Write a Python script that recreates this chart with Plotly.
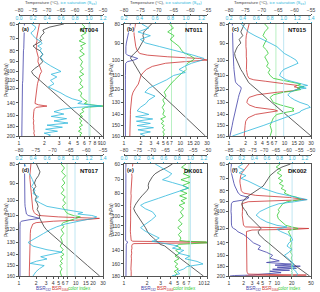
import math
import plotly.graph_objects as go

# ---------------- data ----------------
# Panel (a) NT004
p_a = [60,62,64,66,68, 70,72,74,76,78, 80,83,86,90,94, 97,100,103,106,110,
       114,118,122,126,130, 134,138,141,143,145, 147,150,154,158,162,
       166,170,174,178,182, 186,190,194,198,200]
T_a = [-64,-69,-71.5,-71,-72, -72.5,-72,-73.5,-75,-74, -72.5,-71.5,-72.5,-71.5,-73,
       -74.5,-75.5,-75,-74,-72.5, -71.2,-69.9,-68.65,-67.5,-66.3, -65.2,-64.1,-63.3,-62.8,-62.2,
       -61.7,-61,-60,-59,-58.1, -57.2,-56.3,-55.5,-54.6,-53.8, -53,-52.2,-51.4,-50.7,-50.3]
S_a = [0.18,0.24,0.22,0.17,0.2, 0.24,0.3,0.33,0.27,0.32, 0.3,0.34,0.31,0.36,0.45,
       0.52,0.6,0.46,0.54,0.45, 0.5,0.42,0.52,0.6,0.67, 0.76,0.9,0.84,1.0,1.18,
       0.82,0.62,0.5,0.64,0.46, 0.68,0.5,0.7,0.4,0.62, 0.38,0.55,0.36,0.45,0.42]
B532_a = [1.16,1.16,1.15,1.15,1.15, 1.15,1.14,1.14,1.14,1.14, 1.13,1.13,1.13,1.12,1.12,
          1.12,1.12,1.11,1.11,1.11, 1.1,1.1,1.1,1.1,1.1, 1.09,1.09,1.09,1.09,1.09,
          1.09,1.09,1.08,1.08,1.08, 1.08,1.08,1.08,1.08,1.08, 1.08,1.08,1.08,1.08,1.08]
B1064_a = [1.75,1.72,1.68,1.66,1.64, 1.62,1.64,1.6,1.63,1.6, 1.62,1.65,1.7,1.68,1.75,
           1.8,1.86,1.78,1.74,1.68, 1.66,1.64,1.62,1.62,1.6, 1.58,1.56,1.55,1.7,2.15,
           1.6,1.52,1.5,1.49,1.5, 1.48,1.5,1.48,1.5,1.49, 1.5,1.52,1.5,1.53,1.52]
CI_a = [5.6,6.1,5.3,6.3,5.5, 5.9,5.2,6.2,5.4,5.8, 5.3,6.0,5.2,5.7,5.4,
        5.8,5.3,5.9,5.2,5.6, 5.3,5.8,5.1,5.6,5.4, 5.8,6.5,6.0,7.2,10,
        6.2,5.6,5.9,5.3,5.7, 5.2,5.6,5.3,5.7,5.2, 5.5,5.1,5.6,5.3,5.5]

# Panel (b) NT011
p_b = [80,82,84,86,88, 90,92,94,96,97, 98,99,100,101,102, 104,106,108,110,113,
       116,119,122,125,128, 131,134,137,140,142, 144,146,148,150,152, 154,156,158,160]
T_b = [-71.7,-73,-74,-74.3,-74, -74.6,-75.3,-75.8,-76.9,-77.4, -77.9,-78,-77.5,-77.2,-77,
       -76.5,-76,-75.4,-74.8,-73.4, -72.1,-70.8,-69.5,-68.2,-67.0, -65.8,-64.6,-63.5,-62.4,-61.65,
       -60.9,-60.2,-59.5,-58.9,-58.15, -57.5,-56.8,-56.1,-55.5]
S_b = [0.43,0.52,0.38,0.54,0.41, 0.48,0.66,0.84,1.03,1.09, 1.16,1.23,1.21,1.13,1.07,
       0.98,0.91,0.99,0.84,0.75, 0.64,0.52,0.47,0.6,0.52, 0.48,0.41,0.37,0.52,0.35,
       0.57,0.36,0.54,0.37,0.58, 0.38,0.54,0.41,0.47]
B532_b = [1.3,1.25,1.2,1.16,1.13, 1.1,1.08,1.07,1.08,1.15, 1.4,1.75,1.5,1.15,1.07,
          1.06,1.06,1.06,1.06,1.06, 1.06,1.06,1.06,1.06,1.06, 1.06,1.06,1.06,1.06,1.06,
          1.06,1.06,1.06,1.06,1.06, 1.06,1.06,1.06,1.06]
B1064_b = [1.6,1.55,1.5,1.52,1.55, 1.58,1.62,1.7,1.9,2.6, 6,22,30,12,5.5,
           3.2,2.5,2.2,2.0,1.9, 1.8,1.6,1.45,1.38,1.35, 1.33,1.32,1.3,1.3,1.3,
           1.3,1.29,1.3,1.29,1.28, 1.28,1.28,1.27,1.27]
CI_b = [6.4,7.6,6.0,7.8,6.6, 8.0,9.6,10.5,12,14.5, 16,18,17,15,13.5,
        12.5,13,11,9.5,8.0, 6.8,6.0,5.2,5.6,4.9, 5.3,4.8,5.2,4.9,5.5,
        4.5,5.1,4.6,5.2,4.8, 5.3,4.9,5.2,5.0]

# Panel (c) NT015
p_c = [80,82,84,86,88, 90,92,94,96,98, 100,102,104,106,108, 110,112,113,114,115,
       116,117,118,119,120, 121,122,124,126,128, 130,132,134,135,136, 137,138,140,143,146,
       150,155,160]
T_c = [-75.3,-75.8,-76.4,-75.8,-76.9, -76.4,-77.4,-77.9,-78.3,-78.1, -77.7,-77.4,-76.9,-76.4,-75.8,
       -75.3,-74.8,-74.5,-74.2,-74, -73.5,-73.0,-72.5,-72.0,-71.55, -71.1,-70.6,-69.7,-68.7,-67.8,
       -66.95,-66.1,-65.2,-64.8,-64.35, -63.9,-63.5,-62.7,-61.5,-60.3, -58.7,-56.8,-55]
S_c = [0.38,0.43,0.48,0.58,0.68, 0.8,0.9,0.96,1.01,1.1, 1.18,1.21,1.1,1.0,0.96,
       0.94,1.0,1.04,1.11,1.2, 1.26,1.35,1.23,1.33,1.18, 1.13,1.1,1.06,1.1,1.16,
       1.24,1.35,1.39,1.33,1.28, 1.25,1.24,1.15,1.02,0.88, 0.7,0.47,0.25]
B532_c = [1.15,1.15,1.16,1.16,1.17, 1.17,1.18,1.18,1.19,1.19, 1.2,1.21,1.22,1.23,1.24,
          1.25,1.27,1.28,1.3,1.33, 1.38,1.48,1.62,1.66,1.64, 1.6,1.57,1.52,1.48,1.44,
          1.4,1.37,1.34,1.32,1.31, 1.3,1.28,1.26,1.22,1.18, 1.14,1.09,1.04]
B1064_c = [2.3,2.2,2.1,2.05,2.02, 2.0,2.02,2.05,2.03,2.05, 2.08,2.06,2.08,2.06,2.1,
           2.15,2.3,2.8,4.5,7.5, 12.5,17,15,19,17, 14,7.5,3.2,2.3,2.15,
           2.1,2.3,3.0,4.5,6.5, 7.5,5.5,3.0,2.2,2.0, 1.95,1.9,1.88]
CI_c = [4.4,5.1,4.4,4.1,4.75, 4.4,4.1,4.75,5.1,4.4, 4.75,5.1,4.75,5.5,5.1,
        5.5,6.3,8.4,12.8,15.9, 19.6,17,22.6,17,19.6, 14.8,9.7,6.3,5.5,5.9,
        6.3,8.4,12.8,14.8,13.8, 14.8,11.1,7.3,6.3,5.9, 5.5,5.9,5.5]

# Panel (d) NT017
p_d = [80,82,84,86,88, 90,92,94,96,98, 100,102,104,106,108, 109,110,111,112,113,
       114,115,116,118,120, 123,126,130,133,136, 138,140,142,144,146, 148,150,153,156,160]
T_d = [-74.8,-74.3,-73.75,-74.2,-75, -75.4,-75,-75.8,-75.2,-74.8, -75.2,-74.6,-74.3,-74.6,-74.1,
       -74,-73.75,-74,-73.9,-73.6, -73.4,-73.2,-73,-72.5,-71.9, -70.5,-69.2,-67.5,-66.2,-65.0,
       -64.2,-63.4,-62.6,-61.8,-61.05, -60.3,-59.6,-58.5,-57.4,-56]
S_d = [0.28,0.31,0.34,0.36,0.39, 0.41,0.38,0.43,0.4,0.48, 0.43,0.51,0.6,0.85,1.11,
       1.04,1.24,1.31,1.26,1.15, 1.06,0.96,0.86,0.74,0.65, 0.55,0.45,0.33,0.4,0.6,
       0.81,0.65,0.51,0.6,0.45, 0.36,0.56,0.49,0.44,0.4]
B532_d = [1.25,1.25,1.24,1.24,1.24, 1.24,1.25,1.25,1.25,1.26, 1.26,1.27,1.28,1.3,1.32,
          1.35,1.45,1.8,2.3,1.5, 1.1,1.05,1.04,1.04,1.04, 1.04,1.04,1.04,1.04,1.04,
          1.04,1.04,1.04,1.04,1.04, 1.04,1.04,1.04,1.04,1.04]
B1064_d = [1.62,1.58,1.56,1.55,1.56, 1.58,1.6,1.62,1.63,1.65, 1.66,1.68,1.7,1.75,1.85,
           1.95,2.2,5,26,14, 4,2.0,1.75,1.65,1.6, 1.58,1.57,1.56,1.55,1.55,
           1.54,1.54,1.53,1.53,1.53, 1.52,1.52,1.52,1.52,1.52]
CI_d = [5.5,6.3,5.6,6.6,5.8, 6.4,5.6,6.2,5.5,6.5, 5.9,6.6,5.8,6.3,6.8,
        7.5,9,12,10,8, 6.5,6.0,5.6,6.2,5.5, 6.1,5.4,5.8,5.3,6.0,
        5.5,6.2,5.4,5.9,5.3, 5.8,5.2,5.7,5.3,5.6]

# Panel (e) DK001
p_e = [60,62,64,66,68, 70,72,74,76,78, 80,82,84,86,88, 90,93,96,100,104,
       108,112,116,120,124, 127,128,129,130,131, 132,134,137,140,144, 148,152,156,160,164,
       168,172,176,180]
T_e = [-62.5,-64.4,-66.9,-68.75,-69.75, -70.5,-71,-71.25,-71.1,-71.75, -72.75,-73.5,-74.25,-75,-75.5,
       -76,-76.5,-76,-75,-74, -73,-72.25,-71.6,-70.75,-69.4, -68.5,-68.1,-67.75,-67.5,-67.25,
       -66.9,-65.3,-64.2,-63.1,-61.9, -60.7,-59.5,-58.3,-57.2,-56, -54.8,-53.6,-52.4,-51.3]
S_e = [0.47,0.55,0.64,0.72,0.67, 0.58,0.73,0.875,0.97,0.84, 0.73,0.625,0.52,0.42,0.31,
       0.25,0.32,0.43,0.48,0.41, 0.32,0.25,0.32,0.42,0.53, 0.47,0.42,0.49,0.57,0.64,
       0.72,0.81,0.73,0.9,0.82, 0.99,0.92,1.1,1.19,0.95, 0.9,0.8,0.84,0.72]
B532_e = [1.06,1.06,1.06,1.06,1.06, 1.06,1.06,1.05,1.05,1.05, 1.05,1.05,1.05,1.05,1.05,
          1.05,1.05,1.05,1.05,1.05, 1.05,1.05,1.05,1.05,1.05, 1.05,1.08,1.12,1.1,1.08,
          1.07,1.07,1.07,1.07,1.07, 1.07,1.06,1.06,1.06,1.06, 1.06,1.06,1.06,1.06]
B1064_e = [1.3,1.28,1.27,1.26,1.27, 1.26,1.25,1.26,1.25,1.24, 1.23,1.24,1.23,1.22,1.23,
           1.22,1.22,1.21,1.22,1.22, 1.21,1.22,1.21,1.22,1.22, 1.24,1.3,11.5,11.8,1.35,
           1.28,1.26,1.27,1.25,1.26, 1.24,1.25,1.24,1.23,1.24, 1.23,1.24,1.23,1.24]
CI_e = [6.4,5.6,7.0,5.9,7.3, 5.5,7.2,5.8,6.9,5.4, 6.6,5.3,6.5,5.5,6.2,
        5.2,6.0,5.4,5.9,5.1, 5.7,5.0,5.6,5.1,5.5, 5.3,6.5,12,12,6.2,
        5.2,4.8,5.5,4.7,5.3, 4.6,5.2,4.5,5.0,4.6, 5.1,4.5,4.9,4.6]

# Panel (f) DK002
p_f = [60,62,64,66,68, 70,72,74,76,78, 80,82,84,86,88, 90,92,95,98,100,
       104,108,112,116,118, 119,120,121,122,124, 128,132,136,140,145, 150,155,160,165,170,
       173,176,178,180,182, 184,186,188,190,193, 196,198,199,200]
T_f = [-58.75,-62.4,-64.6,-66,-67.5, -68.2,-69,-69.7,-70.4,-71.9, -73.3,-74.8,-76.25,-77.7,-78.4,
       -79.2,-79.5,-79.2,-78.4,-77.7, -77,-75.5,-73.6,-72.2,-71.6, -71.4,-71.3,-71.6,-71.9,-72.6,
       -72.2,-71.1,-69.7,-68.2,-66.6, -65.2,-63.7,-62.2,-60.8,-59.3, -58.5,-57.6,-57,-56.4,-55.8,
       -55.25,-54.7,-54.1,-53.5,-52.6, -51.75,-51.2,-50.9,-50.6]
S_f = [0.22,0.14,0.24,0.16,0.27, 0.19,0.3,0.38,0.46,0.54, 0.65,0.76,0.92,1.09,1.24,
       1.04,0.79,0.65,0.55,0.49, 0.43,0.5,0.6,0.76,0.92, 0.88,0.82,0.76,0.79,0.82,
       0.93,0.99,1.01,0.95,0.92, 0.99,0.95,0.88,0.93,0.98, 1.0,1.03,1.01,1.0,1.03,
       1.04,1.02,1.05,1.06,1.07, 1.09,1.07,1.06,1.06]
B532_f = [1.12,1.1,1.1,1.12,1.15, 1.18,1.22,1.27,1.32,1.38, 1.45,1.55,1.75,2.6,2.2,
          1.2,1.12,1.1,1.12,1.1, 1.12,1.1,1.12,1.13,1.15, 1.18,1.25,1.35,1.42,1.5,
          2.0,2.4,2.8,3.2,4.5, 4.0,6.0,8.0,7.0,11, 6.0,20,9,30,10,
          25,8,18,7,12, 5,3.0,1.3,1.05]
B1064_f = [2.6,2.3,2.0,1.85,1.75, 1.7,1.68,1.7,1.72,1.75, 1.8,2.0,3.5,18,40,
           2.5,1.85,1.9,1.92,1.9, 1.88,1.92,1.95,2.0,2.2, 8,45,25,3,2.3,
           2.3,2.3,2.35,2.3,2.35, 2.3,2.35,2.3,2.35,2.3, 2.35,2.3,2.35,2.3,2.35,
           2.3,2.35,2.3,2.35,2.4, 2.5,40,3,2.2]
CI_f = [11.5,9.5,12,10,12.5, 10.5,13,11,13.5,12, 15,14,18,26,31,
        16,13,11.5,10.5,11, 10,10.5,12.5,15,20, 24,27,24,19,17,
        18.5,19.5,18.5,20,19, 20,19,20.5,19.5,20.5, 19.5,21,19.5,20.5,19.5,
        21,19.5,20.5,19.5,20.5, 20,21,20,20.5]

# axis ticks / labels
labels = ["(a)", "(b)", "(c)", "(d)", "(e)", "(f)"]
names = ["NT004", "NT011", "NT015", "NT017", "DK001", "DK002"]
p_ticks = [[60,70,80,90,100,110,120,140,160,180,200],
           [80,90,100,110,120,130,140,150,160],
           [80,90,100,110,120,130,140,150,160],
           [80,90,100,110,120,130,140,150,160],
           [60,70,80,90,100,110,120,140,160,180],
           [60,70,80,90,100,120,140,160,180,200]]
bsr_ticks = [[1,2,3,4,5,6,7,8,9,10],
             [1,2,3,4,5,6,7,10,15,20,30],
             [1,2,3,4,5,6,7,10,15,20,30],
             [1,2,3,4,5,6,7,10,15,20,30],
             [1,2,3,4,5,6,7,10,12],
             [1,2,3,4,5,7,10,20,50]]
t_ticks = [[-80,-75,-70,-65,-60,-55,-50],
           [-80,-75,-70,-65,-60,-55],
           [-80,-75,-70,-65,-60,-55],
           [-80,-75,-70,-65,-60,-55],
           [-80,-75,-70,-65,-60,-55,-50],
           [-85,-80,-75,-70,-65,-60,-55,-50]]
s_ticks = [[0.0,0.2,0.4,0.6,0.8,1.0,1.2],
           [0.2,0.4,0.6,0.8,1.0,1.2],
           [0.2,0.4,0.6,0.8,1.0,1.2,1.4],
           [0.2,0.4,0.6,0.8,1.0,1.2,1.4],
           [0.0,0.2,0.4,0.6,0.8,1.0,1.2],
           [0.0,0.2,0.4,0.6,0.8,1.0,1.2]]
s_max = [1.2, 1.27, 1.4, 1.4, 1.25, 1.3]
ci_threshold = 7
sice_threshold = 1.0

series = [
    (p_a, T_a, S_a, B532_a, B1064_a, CI_a),
    (p_b, T_b, S_b, B532_b, B1064_b, CI_b),
    (p_c, T_c, S_c, B532_c, B1064_c, CI_c),
    (p_d, T_d, S_d, B532_d, B1064_d, CI_d),
    (p_e, T_e, S_e, B532_e, B1064_e, CI_e),
    (p_f, T_f, S_f, B532_f, B1064_f, CI_f),
]
for s in series:
    assert all(len(v) == len(s[0]) for v in s), [len(v) for v in s]

# ---------------- styling / layout ----------------
W, H = 320, 292
COLS = [(19, 103), (124, 207), (229, 311)]
ROWS = [(24, 136), (164, 276)]
FONT = "Arial, Liberation Sans, sans-serif"
C_BLUE, C_RED, C_GREEN, C_CYAN, C_BLACK = "#4040a8", "#cc3333", "#33cc33", "#2fb8dc", "#3a3a3a"
C_REFG, C_REFC = "#b9f0c3", "#bfe6f2"
AX = "#555555"
FS = 5


def fx(px):
    return px / W


def fy(py):
    return 1 - py / H


fig = go.Figure()
layout = {}
ann = []


def xid(n):
    return "x" if n == 1 else f"x{n}"


def xkey(n):
    return "xaxis" if n == 1 else f"xaxis{n}"


for i, (p, T, S, b532, b1064, ci) in enumerate(series):
    r, c = divmod(i, 3)
    xl, xr = COLS[c]
    yt, yb = ROWS[r]
    nb, nt, ns = 3 * i + 1, 3 * i + 2, 3 * i + 3
    yref = "y" if i == 0 else f"y{i+1}"
    ykey = "yaxis" if i == 0 else f"yaxis{i+1}"
    pt = p_ticks[i]
    bt = bsr_ticks[i]
    dom_x = [fx(xl), fx(xr)]
    dom_y = [fy(yb), fy(yt)]

    # reference lines
    fig.add_trace(go.Scatter(x=[ci_threshold, ci_threshold], y=[pt[0], pt[-1]], mode="lines",
                             line=dict(color=C_REFG, width=1), xaxis=xid(nb), yaxis=yref,
                             hoverinfo="skip"))
    fig.add_trace(go.Scatter(x=b532, y=p, mode="lines", line=dict(color=C_BLUE, width=0.8),
                             xaxis=xid(nb), yaxis=yref))
    fig.add_trace(go.Scatter(x=b1064, y=p, mode="lines", line=dict(color=C_RED, width=0.8),
                             xaxis=xid(nb), yaxis=yref))
    fig.add_trace(go.Scatter(x=ci, y=p, mode="lines", line=dict(color=C_GREEN, width=0.8),
                             xaxis=xid(nb), yaxis=yref))
    fig.add_trace(go.Scatter(x=T, y=p, mode="lines", line=dict(color=C_BLACK, width=0.8),
                             xaxis=xid(nt), yaxis=yref))
    fig.add_trace(go.Scatter(x=[sice_threshold, sice_threshold], y=[pt[0], pt[-1]], mode="lines",
                             line=dict(color=C_REFC, width=1), xaxis=xid(ns), yaxis=yref,
                             hoverinfo="skip"))
    fig.add_trace(go.Scatter(x=S, y=p, mode="lines", line=dict(color=C_CYAN, width=0.8),
                             xaxis=xid(ns), yaxis=yref))

    layout[xkey(nb)] = dict(domain=dom_x, anchor=yref, type="log",
                            range=[0, math.log10(bt[-1])], tickvals=bt,
                            ticktext=[str(v) for v in bt], ticks="outside", ticklen=2,
                            tickwidth=0.6, tickcolor=AX, showline=True, linecolor=AX,
                            linewidth=0.7, mirror=True, showgrid=False, zeroline=False,
                            tickangle=0, tickfont=dict(size=FS, color="#333"))
    layout[xkey(nt)] = dict(domain=dom_x, overlaying=xid(nb), anchor="free",
                            position=fy(yt - 9), side="top",
                            range=[t_ticks[i][0], t_ticks[i][-1]], tickvals=t_ticks[i],
                            ticks="outside", ticklen=1.5, tickwidth=0.6, tickcolor=AX,
                            showline=True, linecolor=AX, linewidth=0.6, showgrid=False,
                            zeroline=False, tickangle=0, tickfont=dict(size=FS, color="#444"))
    layout[xkey(ns)] = dict(domain=dom_x, overlaying=xid(nb), anchor=yref, side="top",
                            range=[s_ticks[i][0], s_max[i]], tickvals=s_ticks[i],
                            tickformat=".1f", ticks="outside", ticklen=1.5, tickwidth=0.6,
                            tickcolor=C_CYAN, showline=False, showgrid=False, zeroline=False,
                            tickangle=0, tickfont=dict(size=FS, color=C_CYAN))
    layout[ykey] = dict(domain=dom_y, anchor=xid(nb), type="log",
                        range=[math.log10(pt[-1]), math.log10(pt[0])], tickvals=pt,
                        ticktext=[str(v) for v in pt], ticks="outside", ticklen=2,
                        tickwidth=0.6, tickcolor=AX, showline=True, linecolor=AX,
                        linewidth=0.7, mirror=True, showgrid=False, zeroline=False,
                        tickfont=dict(size=FS, color="#333"))

    # annotations
    ann.append(dict(x=fx(xl + 1.5), y=fy(yt + 1.5), xref="paper", yref="paper",
                    text=f"<b>{labels[i]}</b>", showarrow=False, xanchor="left", yanchor="top",
                    font=dict(size=5.5, color="#111", family=FONT), bgcolor="white", borderpad=0))
    ann.append(dict(x=fx(xr - 2), y=fy(yt + 1.5), xref="paper", yref="paper",
                    text=f"<b>{names[i]}</b>", showarrow=False, xanchor="right", yanchor="top",
                    font=dict(size=6, color="#111", family=FONT)))
    ann.append(dict(x=fx(xl - 13), y=(dom_y[0] + dom_y[1]) / 2, xref="paper", yref="paper",
                    text="Pressure (hPa)", showarrow=False, textangle=-90,
                    xanchor="center", yanchor="middle",
                    font=dict(size=FS, color="#333", family=FONT)))
    if r == 0:
        ann.append(dict(x=fx((xl + xr) / 2), y=fy(3.2), xref="paper", yref="paper",
                        text="Temperature (°C), <span style='color:%s'>ice saturation (S<sub>ice</sub>)</span>" % C_CYAN,
                        showarrow=False, xanchor="center", yanchor="middle",
                        font=dict(size=4.3, color="#444", family=FONT)))
    else:
        for off, txt, col in [(24, "BSR<sub>532</sub>", C_BLUE),
                              (41, "BSR<sub>1064</sub>", C_RED),
                              (60, "color index", C_GREEN)]:
            ann.append(dict(x=fx(xl + off), y=fy(288.5), xref="paper", yref="paper",
                            text=txt, showarrow=False, xanchor="center", yanchor="middle",
                            font=dict(size=4.6, color=col, family=FONT)))

fig.update_layout(**layout)
fig.update_layout(width=W, height=H, autosize=False,
                  margin=dict(l=0, r=0, t=0, b=0, autoexpand=False),
                  paper_bgcolor="white", plot_bgcolor="white", showlegend=False,
                  font=dict(family=FONT, size=FS, color="#333"), annotations=ann,
                  hovermode=False)
fig.write_html("out.html", config={"displayModeBar": False},
               post_script="document.body.style.margin='0';document.body.style.padding='0';")
